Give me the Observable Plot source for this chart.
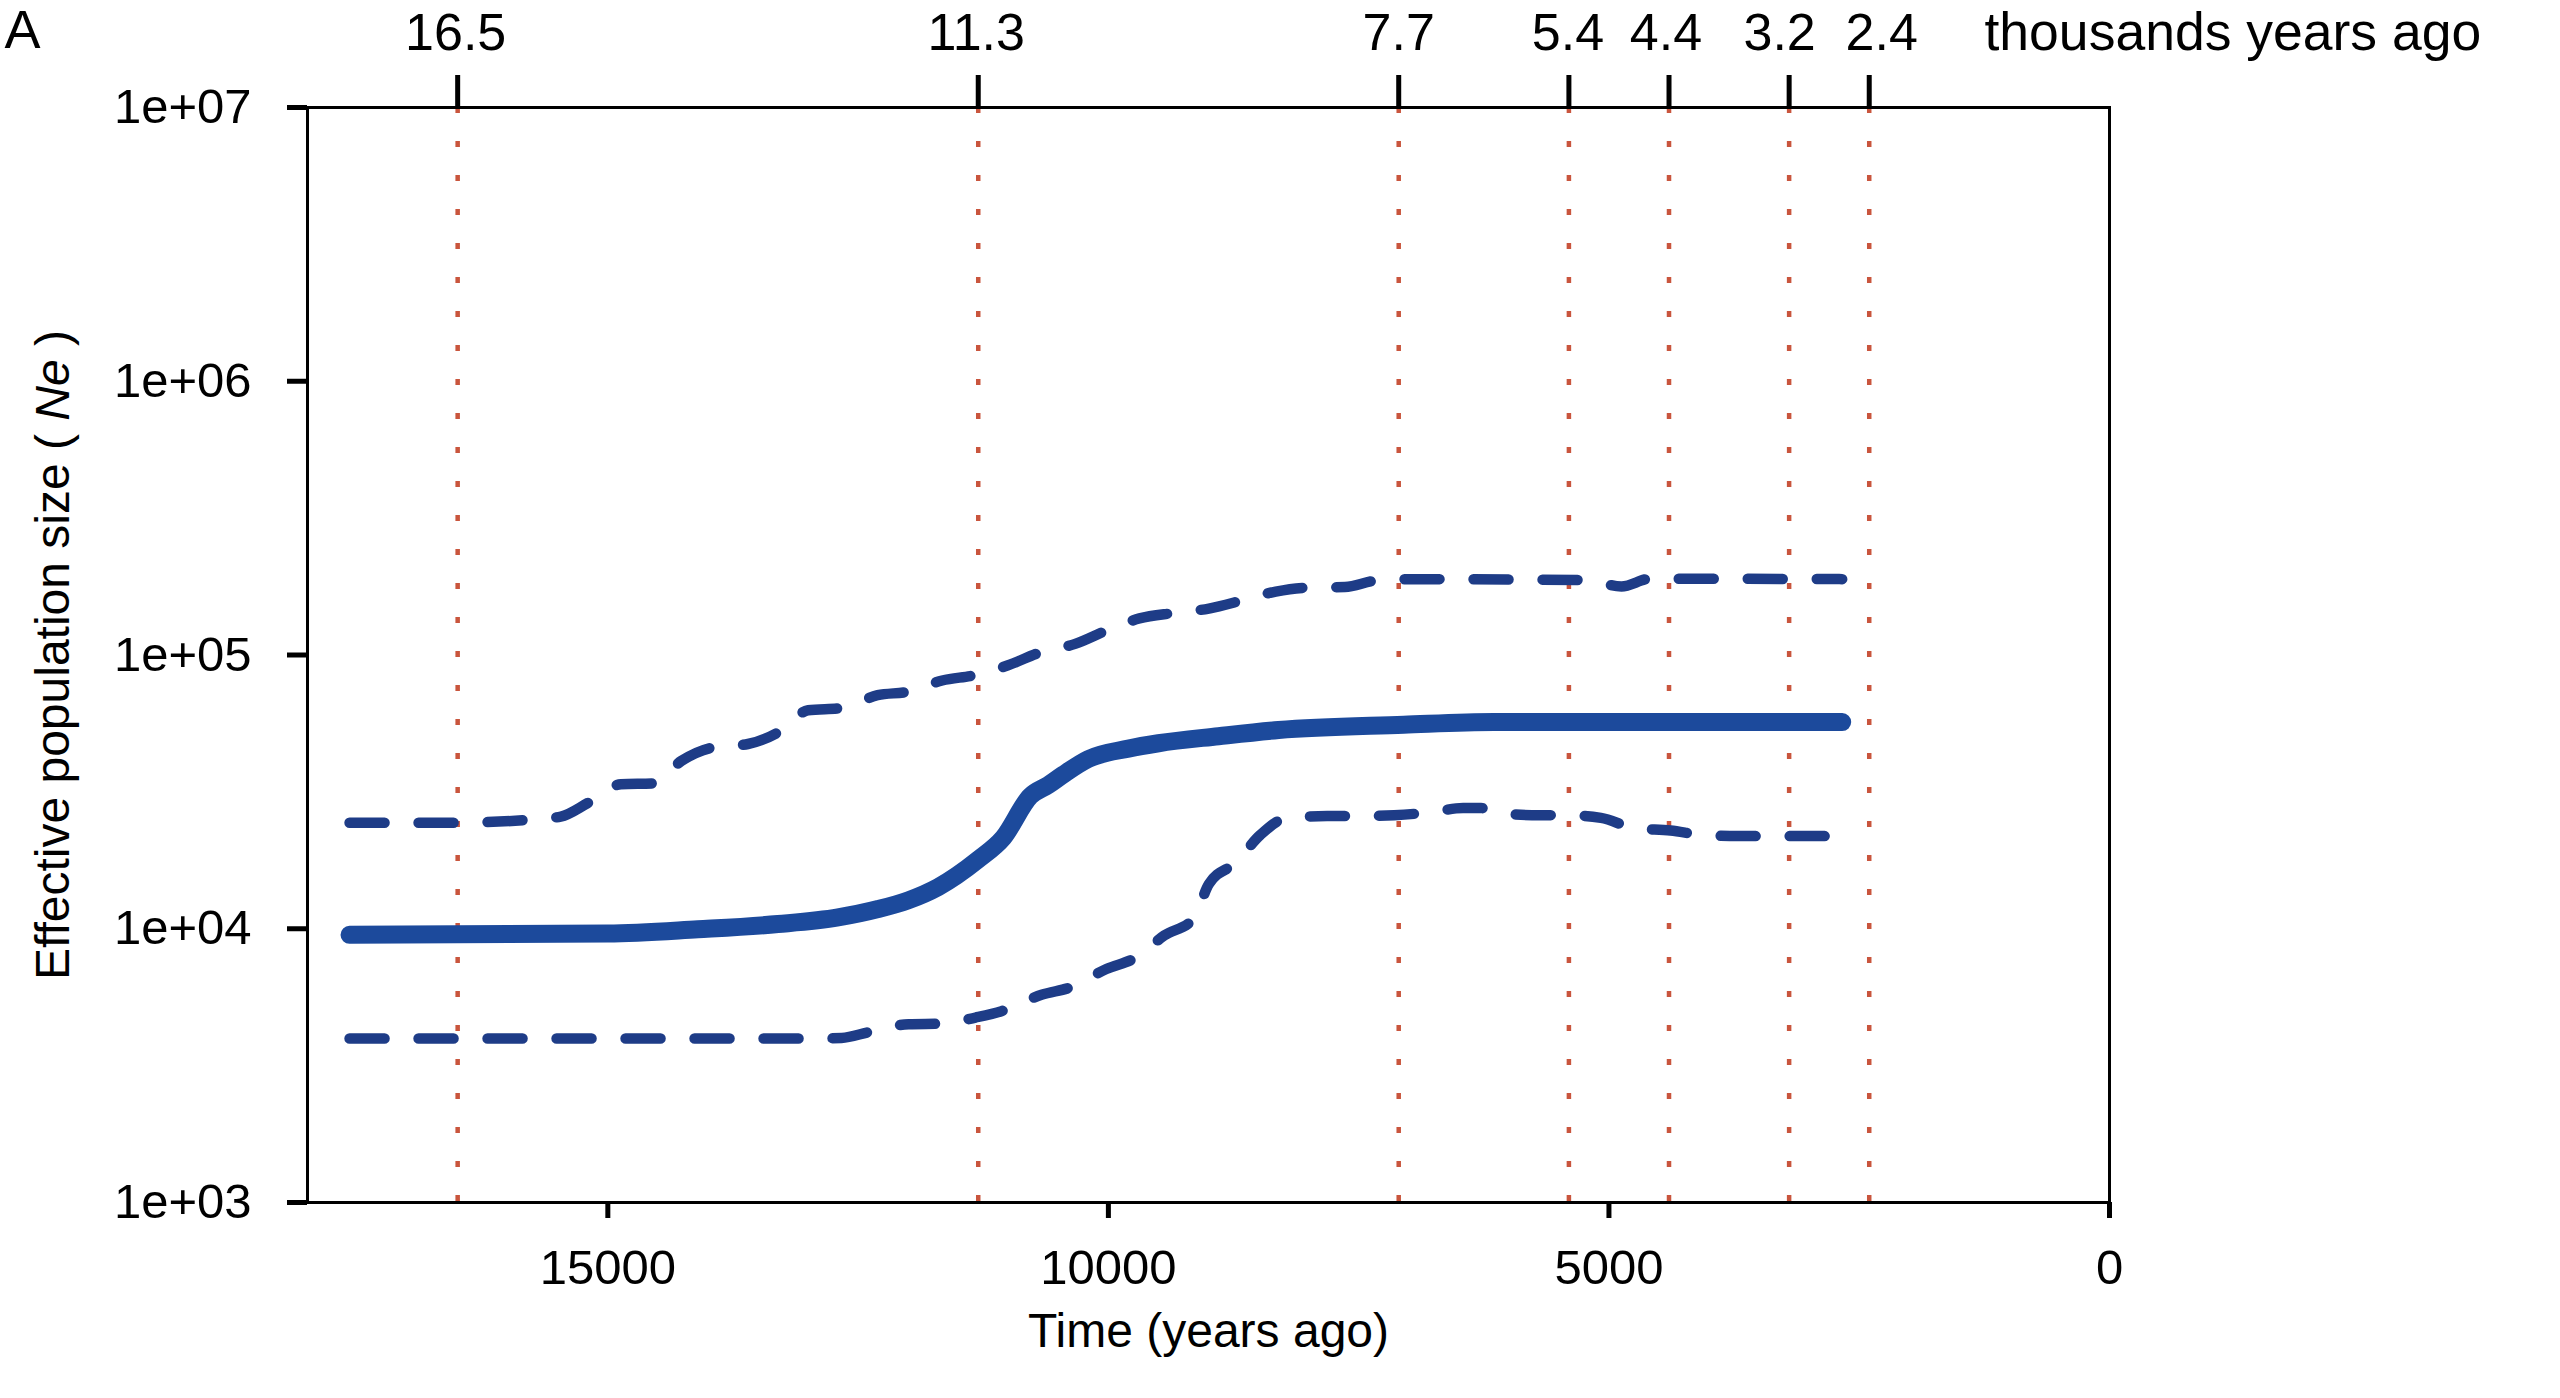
<!DOCTYPE html>
<html><head><meta charset="utf-8">
<script src="https://cdn.jsdelivr.net/npm/d3@7"></script>
<script src="https://cdn.jsdelivr.net/npm/@observablehq/plot@0.6"></script>
<style>html,body{margin:0;padding:0;background:#fff;} svg{display:block}</style>
</head><body><div id="chart"></div>
<script>
const medianYears = [17580, 15000, 14100, 13300, 12700, 12300, 12000, 11700, 11300, 11050, 10780, 10600, 10450, 10200, 9800, 9500, 8900, 8300, 7050, 6150, 4100, 2670];
const medianNe    = [9500, 9600, 9950, 10400, 11000, 11800, 12700, 14200, 17900, 21500, 30500, 33500, 36600, 41700, 45500, 47600, 50500, 53200, 55600, 56900, 56900, 56900];

const upperYears = [17580, 16540, 15850, 15470, 15200, 14870, 14535, 14267, 13955, 13600, 13290, 13000, 12665, 12305, 11995, 11660, 11327, 11002, 10668, 10332, 10020, 9690, 9351, 8996, 8663, 8328, 7994, 7637, 7325, 6970, 5230, 4875, 4585, 2670];
const upperNe    = [24400, 24400, 24900, 25700, 28800, 33700, 34000, 41000, 45900, 47300, 52400, 62800, 64000, 71300, 73500, 80700, 84500, 91700, 102600, 109800, 122800, 136000, 142300, 147800, 158300, 170500, 176300, 177000, 187000, 189300, 187700, 178000, 190000, 189300];

const lowerYears = [17580, 13020, 12665, 12395, 11995, 11660, 11327, 11068, 10668, 10360, 10020, 9730, 9441, 9151, 8996, 8730, 8483, 8217, 7815, 7505, 7146, 6790, 6457, 6277, 6123, 5768, 5430, 5080, 4740, 4385, 4055, 3700, 2670];
const lowerNe    = [3970, 3970, 3990, 4190, 4480, 4500, 4740, 5000, 5740, 6140, 7130, 7830, 9450, 10870, 14560, 17420, 22000, 25400, 25800, 25800, 26000, 26600, 27600, 27600, 26600, 26000, 26000, 25400, 23300, 22850, 22000, 21800, 21800];

const eventYears      = [16500, 11300, 7100, 5400, 4400, 3200, 2400];
const eventLabels     = ["16.5", "11.3", "7.7", "5.4", "4.4", "3.2", "2.4"];
const eventLabelYears = [16520, 11320, 7100, 5410, 4430, 3295, 2275];

const yTicks      = [1e3, 1e4, 1e5, 1e6, 1e7];
const yTickLabels = ["1e+03", "1e+04", "1e+05", "1e+06", "1e+07"];
const xTicks      = [15000, 10000, 5000, 0];
const xTickLabels = ["15000", "10000", "5000", "0"];

const toRows = (xs, ys) => xs.map((x, i) => ({year: x, ne: ys[i]}));
const median = toRows(medianYears, medianNe);
const upper = toRows(upperYears, upperNe);
const lower = toRows(lowerYears, lowerNe);
const eventText = eventLabels.map((t, i) => ({year: eventLabelYears[i], label: t}));
const yMap = new Map(yTicks.map((d, i) => [d, yTickLabels[i]]));
const xMap = new Map(xTicks.map((d, i) => [d, xTickLabels[i]]));

const plot = Plot.plot({
  width: 2560, height: 1398,
  marginLeft: 307, marginRight: 451, marginTop: 107, marginBottom: 196,
  style: {fontFamily: "'Liberation Sans', Arial, sans-serif", background: "#fff", color: "#000"},
  x: {domain: [18000, 0], axis: null},
  y: {type: "log", domain: [1e3, 1e7], axis: null},
  marks: [
    Plot.ruleX(eventYears, {stroke: "#c9553d", strokeWidth: 4.5, strokeDasharray: "6,28"}),
    Plot.line(lower, {x: "year", y: "ne", stroke: "#1e3c87", strokeWidth: 10.5, strokeDasharray: "35,34", curve: "monotone-x"}),
    Plot.line(upper, {x: "year", y: "ne", stroke: "#1e3c87", strokeWidth: 10.5, strokeDasharray: "35,34", curve: "monotone-x"}),
    Plot.line(median, {x: "year", y: "ne", stroke: "#1c4a9c", strokeWidth: 18, curve: "monotone-x"}),
    Plot.frame({stroke: "#000", strokeWidth: 3}),
    Plot.axisY({ticks: yTicks, tickFormat: d => yMap.get(d), tickSize: 20, tickPadding: 36, strokeWidth: 5, fontSize: 49, label: null}),
    Plot.axisX({anchor: "bottom", ticks: xTicks, tickFormat: d => xMap.get(d), tickSize: 16, tickPadding: 31, strokeWidth: 5, fontSize: 49, label: null}),
    Plot.axisX({anchor: "top", ticks: eventYears, tickFormat: () => "", tickSize: 33, strokeWidth: 5, label: null}),
    Plot.text(eventText, {x: "year", text: "label", frameAnchor: "top", dy: -58, lineAnchor: "bottom", textAnchor: "middle", fontSize: 52}),
    Plot.text(["Time (years ago)"], {frameAnchor: "bottom", dy: 144, lineAnchor: "bottom", fontSize: 48, text: d => d}),
    Plot.text(["Effective population size ( Ne )"], {frameAnchor: "left", dx: -239, rotate: -90, lineAnchor: "bottom", textAnchor: "middle", fontSize: 48, text: d => d}),
    Plot.text(["thousands years ago"], {frameAnchor: "top-right", dx: -125, dy: -58, textAnchor: "start", lineAnchor: "bottom", fontSize: 53.5, text: d => d}),
    Plot.text(["A"], {frameAnchor: "top-left", dx: -303, dy: -60, textAnchor: "start", lineAnchor: "bottom", fontSize: 54, text: d => d})
  ]
});

d3.select(plot).selectAll("text").filter(function() { return this.textContent.includes("( Ne )"); }).each(function() {
  const t = d3.select(this);
  t.text(null);
  t.append("tspan").text("Effective population size ( ");
  t.append("tspan").attr("font-style", "italic").text("Ne");
  t.append("tspan").text(" )");
});

document.getElementById("chart").appendChild(plot);
</script>
</body></html>
